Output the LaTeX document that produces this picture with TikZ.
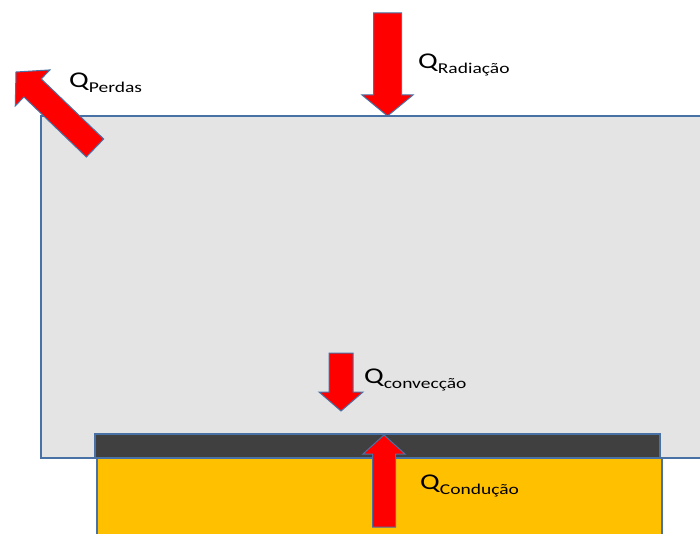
\documentclass[tikz,border=0pt]{standalone}
\usepackage{fontspec}
\usepackage{graphicx}
\setmainfont{Carlito}
\usetikzlibrary{calc}
\definecolor{edgeblue}{RGB}{72,114,165}
\definecolor{panelgray}{RGB}{228,228,228}
\definecolor{stripdark}{RGB}{64,64,64}
\definecolor{baseyellow}{RGB}{255,192,0}
\tikzset{
  panel/.style={fill=panelgray, draw=edgeblue, line width=1.2pt},
  strip/.style={fill=stripdark, draw=edgeblue, line width=1.2pt},
  base/.style={fill=baseyellow, draw=edgeblue, line width=1.2pt},
  bigarrow/.style={fill=red, draw=edgeblue, line width=1pt, line join=miter},
  qlabel/.style={anchor=base west, inner sep=0pt, text=black}
}
\newcommand\qtext[1]{\scalebox{1.3}[1]{\fontsize{22.5}{24}\selectfont Q\raisebox{-5pt}{\fontsize{15}{16}\selectfont #1}}}
% tail, tip, shaft half width, head half width, head length
\newcommand\blockarrow[5]{%
  \coordinate (ba-B) at ($(#2)!#5!(#1)$);
  \draw[bigarrow] ($(#1)!#3!90:(#2)$) -- ($(ba-B)!#3!90:(#2)$) -- ($(ba-B)!#4!90:(#2)$) -- (#2)
     -- ($(ba-B)!#4!-90:(#2)$) -- ($(ba-B)!#3!-90:(#2)$) -- ($(#1)!#3!-90:(#2)$) -- cycle;
}
\begin{document}
\begin{tikzpicture}[x=1pt,y=-1pt]
\useasboundingbox (0,0) rectangle (700,534);
\clip (0,0) rectangle (700,534);
\fill[white] (0,0) rectangle (700,534);
% shapes
\draw[panel] (41,116) rectangle (712,458);
\draw[base] (97,458) rectangle (662,545);
\draw[strip] (95,434) rectangle (660,458);
% arrow coordinates
\coordinate (radTail) at (387.5,13);
\coordinate (radTip) at (387.5,116);
\coordinate (convTail) at (341,353);
\coordinate (convTip) at (341,411);
\coordinate (condTail) at (384,527);
\coordinate (condTip) at (384,435);
\coordinate (perdTail) at (95,148);
\coordinate (perdTip) at (16,72);
\blockarrow{radTail}{radTip}{14pt}{25.5pt}{21pt}
\blockarrow{convTail}{convTip}{12pt}{22pt}{19pt}
\blockarrow{condTail}{condTip}{11.5pt}{21pt}{19pt}
\blockarrow{perdTail}{perdTip}{12.5pt}{25pt}{23pt}
% labels
\node[qlabel] (lrad) at (418,69) {\qtext{Radiação}};
\node[qlabel] (lperd) at (69,88) {\qtext{Perdas}};
\node[qlabel] (lconv) at (364,383) {\qtext{convecção}};
\node[qlabel] (lcond) at (420,489) {\qtext{Condução}};
\end{tikzpicture}
\end{document}
